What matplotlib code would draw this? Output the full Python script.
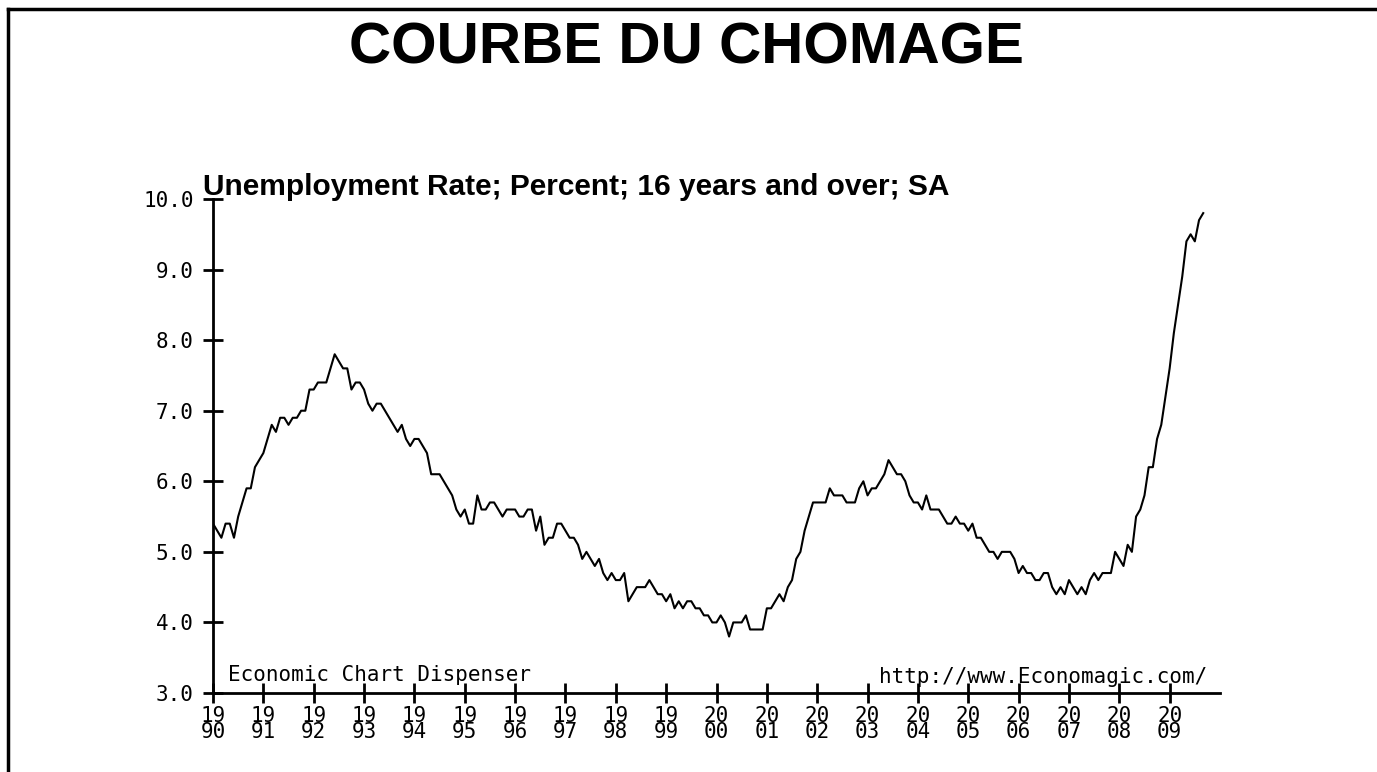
import numpy as np
import matplotlib
matplotlib.use("Agg")
import matplotlib.pyplot as plt
from matplotlib.lines import Line2D

# monthly unemployment rate, Jan 1990 .. Sep 2009 (percent, SA)
rate_1990s = [
    5.4, 5.3, 5.2, 5.4, 5.4, 5.2, 5.5, 5.7, 5.9, 5.9, 6.2, 6.3,   # 1990
    6.4, 6.6, 6.8, 6.7, 6.9, 6.9, 6.8, 6.9, 6.9, 7.0, 7.0, 7.3,   # 1991
    7.3, 7.4, 7.4, 7.4, 7.6, 7.8, 7.7, 7.6, 7.6, 7.3, 7.4, 7.4,   # 1992
    7.3, 7.1, 7.0, 7.1, 7.1, 7.0, 6.9, 6.8, 6.7, 6.8, 6.6, 6.5,   # 1993
    6.6, 6.6, 6.5, 6.4, 6.1, 6.1, 6.1, 6.0, 5.9, 5.8, 5.6, 5.5,   # 1994
    5.6, 5.4, 5.4, 5.8, 5.6, 5.6, 5.7, 5.7, 5.6, 5.5, 5.6, 5.6,   # 1995
    5.6, 5.5, 5.5, 5.6, 5.6, 5.3, 5.5, 5.1, 5.2, 5.2, 5.4, 5.4,   # 1996
    5.3, 5.2, 5.2, 5.1, 4.9, 5.0, 4.9, 4.8, 4.9, 4.7, 4.6, 4.7,   # 1997
    4.6, 4.6, 4.7, 4.3, 4.4, 4.5, 4.5, 4.5, 4.6, 4.5, 4.4, 4.4,   # 1998
    4.3, 4.4, 4.2, 4.3, 4.2, 4.3, 4.3, 4.2, 4.2, 4.1, 4.1, 4.0,   # 1999
]
rate_2000s = [
    4.0, 4.1, 4.0, 3.8, 4.0, 4.0, 4.0, 4.1, 3.9, 3.9, 3.9, 3.9,   # 2000
    4.2, 4.2, 4.3, 4.4, 4.3, 4.5, 4.6, 4.9, 5.0, 5.3, 5.5, 5.7,   # 2001
    5.7, 5.7, 5.7, 5.9, 5.8, 5.8, 5.8, 5.7, 5.7, 5.7, 5.9, 6.0,   # 2002
    5.8, 5.9, 5.9, 6.0, 6.1, 6.3, 6.2, 6.1, 6.1, 6.0, 5.8, 5.7,   # 2003
    5.7, 5.6, 5.8, 5.6, 5.6, 5.6, 5.5, 5.4, 5.4, 5.5, 5.4, 5.4,   # 2004
    5.3, 5.4, 5.2, 5.2, 5.1, 5.0, 5.0, 4.9, 5.0, 5.0, 5.0, 4.9,   # 2005
    4.7, 4.8, 4.7, 4.7, 4.6, 4.6, 4.7, 4.7, 4.5, 4.4, 4.5, 4.4,   # 2006
    4.6, 4.5, 4.4, 4.5, 4.4, 4.6, 4.7, 4.6, 4.7, 4.7, 4.7, 5.0,   # 2007
    4.9, 4.8, 5.1, 5.0, 5.5, 5.6, 5.8, 6.2, 6.2, 6.6, 6.8, 7.2,   # 2008
    7.6, 8.1, 8.5, 8.9, 9.4, 9.5, 9.4, 9.7, 9.8,                  # 2009
]
rate = rate_1990s + rate_2000s
start_year = 1990
tick_years = list(range(1990, 2010))
ytick_values = [3.0, 4.0, 5.0, 6.0, 7.0, 8.0, 9.0, 10.0]

months = start_year + np.arange(len(rate)) / 12.0

fig = plt.figure(figsize=(13.77, 7.72), dpi=100)
fig.patch.set_facecolor("white")

# frame lines on top and left of the picture
fig.add_artist(Line2D([7.5 / 1377, 1.0], [1 - 9 / 772, 1 - 9 / 772], color="black", lw=2.5))
fig.add_artist(Line2D([7.5 / 1377, 7.5 / 1377], [0.0, 1 - 9 / 772], color="black", lw=2.5))

fig.text(686 / 1377, 1 - 49 / 772, "COURBE DU CHOMAGE", ha="center", va="center",
         fontsize=42, fontweight="bold", family="Liberation Sans")
fig.text(203 / 1377, 1 - 187 / 772, "Unemployment Rate; Percent; 16 years and over; SA",
         ha="left", va="center", fontsize=21.5, fontweight="bold", family="Liberation Sans")

ax = fig.add_axes([213 / 1377, 1 - 693 / 772, (1220 - 213) / 1377, (693 - 199) / 772])
ax.plot(months, rate, color="black", lw=1.5)

ax.set_xlim(1990, 2010)
ax.set_ylim(3, 10)
for s in ["top", "right"]:
    ax.spines[s].set_visible(False)
for s in ["left", "bottom"]:
    ax.spines[s].set_linewidth(2)

mono = "DejaVu Sans Mono"
ax.set_yticks(ytick_values)
ax.set_yticklabels(["%.1f" % v for v in ytick_values], family=mono, fontsize=15)
ax.set_xticks(tick_years)
ax.set_xticklabels(["%s\n%s" % (str(y)[:2], str(y)[2:]) for y in tick_years],
                   family=mono, fontsize=15, linespacing=0.8)
ax.tick_params(direction="inout", length=14, width=2)
ax.tick_params(axis="y", pad=7)
ax.tick_params(axis="x", pad=2)

ax.text(228 / 1377, 1 - 675 / 772, "Economic Chart Dispenser", transform=fig.transFigure,
        ha="left", va="center", family=mono, fontsize=15)
ax.text(1207 / 1377, 1 - 677 / 772, "http://www.Economagic.com/", transform=fig.transFigure,
        ha="right", va="center", family=mono, fontsize=15)

fig.savefig("out.png", dpi=100, facecolor="white")
